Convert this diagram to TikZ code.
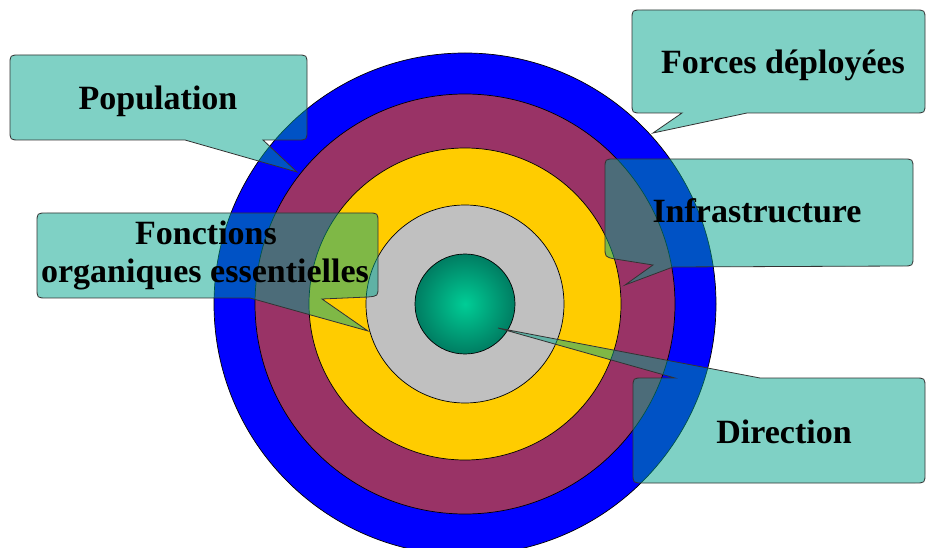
\documentclass[tikz,border=0pt]{standalone}
\usepackage{fontspec}
\setmainfont{Liberation Serif}
\definecolor{ringblue}{RGB}{0,0,255}
\definecolor{ringmaroon}{RGB}{153,51,102}
\definecolor{ringyellow}{RGB}{255,204,0}
\definecolor{ringgray}{RGB}{192,192,192}
\definecolor{ballin}{RGB}{0,205,150}
\definecolor{ballout}{RGB}{0,125,98}
\definecolor{calloutfill}{RGB}{0,165,140}
\tikzset{
  ring/.style={draw=black, line width=0.7pt},
  callout/.style={fill=calloutfill, fill opacity=0.5, draw=black!80, draw opacity=1, line width=0.8pt, line join=miter},
  label/.style={font=\fontsize{34}{38}\selectfont\bfseries, text=black, inner sep=0pt, anchor=base}
}
\begin{document}
\begin{tikzpicture}[x=1pt,y=-1pt]
\useasboundingbox (0,0) rectangle (927,548);
\fill[white] (0,0) rectangle (927,548);
\clip (0,0) rectangle (927,548);
% concentric rings
\coordinate (c) at (465,304);
\path[ring, fill=ringblue] (c) circle[radius=251pt];
\path[ring, fill=ringmaroon] (c) circle[radius=210pt];
\path[ring, fill=ringyellow] (c) circle[radius=156pt];
\path[ring, fill=ringgray] (c) circle[radius=99pt];
\shade[inner color=ballin, outer color=ballout] (c) circle[radius=50pt];
\draw[line width=0.7pt] (c) circle[radius=50pt];
% callouts
% Population
\path[callout] (20,55) -- (297,55) .. controls (307,55) .. (307,65) -- (307,130) .. controls (307,140) .. (297,140)
  -- (263,140) -- (297,172) -- (185,140) -- (20,140) .. controls (10,140) .. (10,130) -- (10,65) .. controls (10,55) .. (20,55) -- cycle;
% Forces deployees
\path[callout] (642,10) -- (915,10) .. controls (925,10) .. (925,20) -- (925,103) .. controls (925,113) .. (915,113)
  -- (747,113) -- (653,133) -- (682,113) -- (642,113) .. controls (632,113) .. (632,103) -- (632,20) .. controls (632,10) .. (642,10) -- cycle;
% Infrastructure
\path[callout] (615,159) -- (903,159) .. controls (913,159) .. (913,169) -- (913,256) .. controls (913,266) .. (903,266)
  -- (673,267) -- (625,285) -- (653,265) -- (615,259) .. controls (605,257) .. (605,247) -- (605,169) .. controls (605,159) .. (615,159) -- cycle;
% Fonctions organiques essentielles
\path[callout] (47,213) -- (368,213) .. controls (378,213) .. (378,223) -- (378,287) .. controls (378,296) .. (368,297)
  -- (322,299) -- (368,331) -- (250,298) -- (47,298) .. controls (37,298) .. (37,288) -- (37,223) .. controls (37,213) .. (47,213) -- cycle;
% Direction
\path[callout] (643,378) -- (675,378) -- (498,328) -- (760,378) -- (915,378) .. controls (925,378) .. (925,388) -- (925,473) .. controls (925,483) .. (915,483)
  -- (643,483) .. controls (633,483) .. (633,473) -- (633,388) .. controls (633,378) .. (643,378) -- cycle;
% labels
\node[label] (pop) at (158,110) {Population};
\node[label] (forces) at (783,74) {Forces déployées};
\node[label] (infra) at (757,223) {Infrastructure};
\node[label] (fonc1) at (206,245) {Fonctions};
\node[label] (fonc2) at (205,283) {organiques essentielles};
\node[label] (dir) at (784,443) {Direction};
\end{tikzpicture}
\end{document}
